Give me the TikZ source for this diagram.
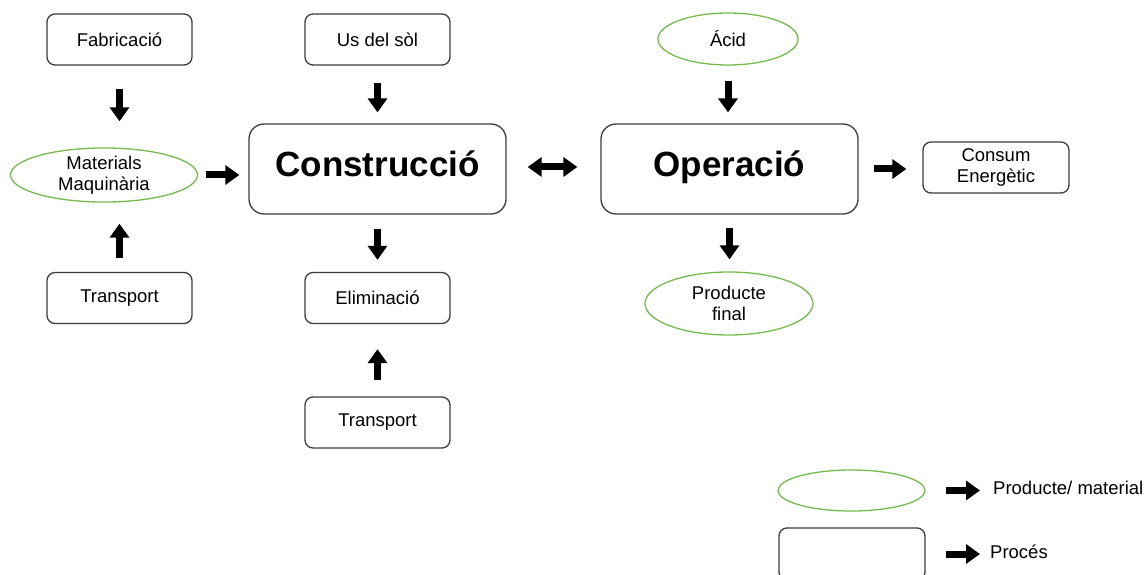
\documentclass[tikz,border=0pt]{standalone}
\usepackage{fontspec}
\setmainfont{Liberation Sans}
\usetikzlibrary{shapes.geometric,arrows.meta}
\definecolor{edgegray}{RGB}{60,60,60}
\definecolor{leafgreen}{RGB}{118,186,78}
\tikzset{
  proc/.style={draw=edgegray, line width=1.3pt, rounded corners=8pt,
    minimum width=145pt, minimum height=51pt, inner sep=0pt, align=center,
    font=\fontsize{18.5}{21}\selectfont},
  bigproc/.style={proc, rounded corners=15pt, minimum width=257pt,
    minimum height=90pt, text height=24pt, text depth=8pt,
    font=\fontsize{35}{40}\selectfont\bfseries},
  prod/.style={ellipse, draw=leafgreen, line width=1.3pt, inner sep=0pt,
    align=center, font=\fontsize{18.5}{21}\selectfont},
  label/.style={anchor=west, inner sep=0pt, font=\fontsize{18.5}{21}\selectfont},
  flow/.style={line width=7pt, -{Triangle[length=14pt,width=19pt]}},
  twoway/.style={line width=7pt,
    {Triangle[length=14pt,width=19pt]}-{Triangle[length=14pt,width=19pt]}},
}
\begin{document}
\begin{tikzpicture}[x=1pt,y=-1pt]
  \clip (0,0) rectangle (1144,575);
  \useasboundingbox (0,0) rectangle (1144,575);

  % construction stage
  \node[proc] (fab) at (119.5,39.5) {Fabricació};
  \node[prod, minimum width=187pt, minimum height=53pt] (mat) at (104,175) {Materials\\Maquinària};
  \node[proc] (tr1) at (119.5,298) {Transport};
  \node[proc] (us) at (377.5,39.5) {Us del sòl};
  \node[bigproc] (cons) at (377.5,169) {Construcció};
  \node[proc] (elim) at (377.5,298) {Eliminació};
  \node[proc] (tr2) at (377.5,422.5) {Transport};

  % operation stage
  \node[bigproc] (oper) at (729.5,169) {Operació};
  \node[prod, minimum width=140pt, minimum height=52pt] (acid) at (728,39) {Ácid};
  \node[prod, minimum width=168pt, minimum height=63pt] (fin) at (729,303.5) {Producte\\final};
  \node[proc, minimum width=146pt] (ener) at (996,167.5) {Consum\\Energètic};

  % flows
  \draw[flow, shorten <=23pt, shorten >=26pt] (fab.south) -- (fab.south |- mat.north);
  \draw[flow, shorten <=14pt, shorten >=21pt] (tr1.north) -- (tr1.north |- mat.south);
  \draw[flow, shorten <=8pt, shorten >=9pt] (mat.east) -- (mat.east -| cons.west);
  \draw[flow, shorten <=17pt, shorten >=11pt] (us.south) -- (cons.north);
  \draw[twoway, shorten <=21pt, shorten >=23pt] ([yshift=2pt]cons.east) -- ([yshift=2pt]oper.west);
  \draw[flow, shorten <=15pt, shorten >=11pt] (acid.south) -- (acid.south |- oper.north);
  \draw[flow, shorten <=15pt, shorten >=16pt] (oper.east) -- (oper.east -| ener.west);
  \draw[flow, shorten <=13pt, shorten >=12pt] (oper.south) -- (oper.south |- fin.north);
  \draw[flow, shorten <=14pt, shorten >=12pt] (cons.south) -- (elim.north);
  \draw[flow, shorten <=16pt, shorten >=25pt] (tr2.north) -- (elim.south);

  % legend
  \node[prod, minimum width=147pt, minimum height=41pt] (keyprod) at (851.5,490.5) {};
  \node[label] (keyprodtxt) at (993,488) {Producte/ material};
  \node[proc, minimum width=146pt, minimum height=52pt] (keyproc) at (852,554) {};
  \node[label] (keyproctxt) at (990,552) {Procés};
  \draw[flow, shorten <=20pt, shorten >=13pt] (keyprod.east) -- (keyprod.east -| keyprodtxt.west);
  \draw[flow, shorten <=20pt, shorten >=10pt] (keyproc.east) -- (keyproc.east -| keyproctxt.west);
\end{tikzpicture}
\end{document}
